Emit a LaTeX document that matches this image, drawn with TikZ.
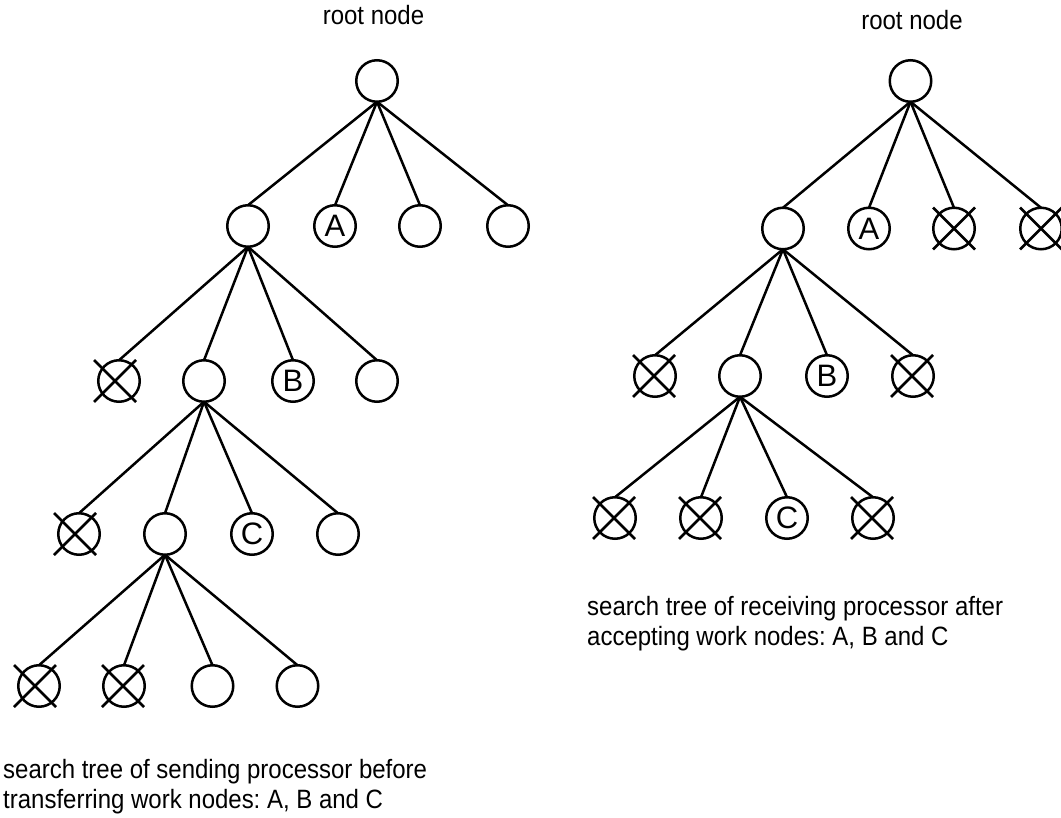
\documentclass[tikz,border=0pt]{standalone}
\usepackage{fontspec}
\setmainfont{Liberation Sans}
\newfontfamily\labelfont[FakeStretch=0.905]{Liberation Sans}
\frenchspacing
\begin{document}
\begin{tikzpicture}[x=1pt,y=-1pt,
  tn/.style={circle, draw, line width=2.5pt, minimum size=41.5pt, inner sep=0pt,
             outer sep=0pt, font=\fontsize{31}{31}\selectfont},
  ln/.style={line width=2.5pt},
  captxt/.style={font=\labelfont\fontsize{26.5}{30}\selectfont, align=left, inner sep=0pt}]
\useasboundingbox (0,0) rectangle (1061,818);

% cross drawn over a discarded node: #1 node name, #2 horizontal offset
\newcommand{\crossnode}[2]{%
  \draw[ln] ([shift={(#2-21pt,21pt)}]#1.center) -- ([shift={(#2+21pt,-21pt)}]#1.center)
            ([shift={(#2-21pt,-21pt)}]#1.center) -- ([shift={(#2+21pt,21pt)}]#1.center);}

% ---------- sending processor ----------
\node[captxt, anchor=base] (lroottxt) at (373.5,25) {root node};
\node[tn] (l0) at (377,81) {};
\node[tn] (l1a) at (248,226) {};
\node[tn] (l1b) at (335,226) {A};
\node[tn] (l1c) at (420,226) {};
\node[tn] (l1d) at (508,226) {};
\node[tn] (l2a) at (119,381) {};
\node[tn] (l2b) at (204,381) {};
\node[tn] (l2c) at (293,381) {B};
\node[tn] (l2d) at (377,381) {};
\node[tn] (l3a) at (79,534) {};
\node[tn] (l3b) at (165,534) {};
\node[tn] (l3c) at (252,534) {C};
\node[tn] (l3d) at (338,534) {};
\node[tn] (l4a) at (39,686) {};
\node[tn] (l4b) at (124,686) {};
\node[tn] (l4c) at (212.5,686) {};
\node[tn] (l4d) at (297.5,686) {};

\foreach \c in {l1a,l1b,l1c,l1d} \draw[ln] (l0.south) -- (\c.north);
\foreach \c in {l2a,l2b,l2c,l2d} \draw[ln] (l1a.south) -- (\c.north);
\foreach \c in {l3a,l3b,l3c,l3d} \draw[ln] (l2b.south) -- (\c.north);
\foreach \c in {l4a,l4b,l4c,l4d} \draw[ln] (l3b.south) -- (\c.north);

\crossnode{l2a}{-4pt}
\crossnode{l3a}{-4pt}
\crossnode{l4a}{-4pt}
\crossnode{l4b}{-1pt}

% the base anchor of a two-line node sits on its last line
\node[captxt, anchor=base west] (lcap) at (3,808)
  {search tree of sending processor before\\transferring work nodes: A, B and C};

% ---------- receiving processor ----------
\node[captxt, anchor=base] (rroottxt) at (912,30) {root node};
\node[tn] (r0) at (910.5,81) {};
\node[tn] (r1a) at (783,228.5) {};
\node[tn] (r1b) at (869,228.5) {A};
\node[tn] (r1c) at (954,228.5) {};
\node[tn] (r1d) at (1041,228.5) {};
\node[tn] (r2a) at (655,376) {};
\node[tn] (r2b) at (740,376) {};
\node[tn] (r2c) at (827,376) {B};
\node[tn] (r2d) at (913,376) {};
\node[tn] (r3a) at (615,518) {};
\node[tn] (r3b) at (701,518) {};
\node[tn] (r3c) at (787,518) {C};
\node[tn] (r3d) at (873,518) {};

\foreach \c in {r1a,r1b,r1c,r1d} \draw[ln] (r0.south) -- (\c.north);
\foreach \c in {r2a,r2b,r2c,r2d} \draw[ln] (r1a.south) -- (\c.north);
\foreach \c in {r3a,r3b,r3c,r3d} \draw[ln] (r2b.south) -- (\c.north);

\crossnode{r1c}{0pt}
\crossnode{r1d}{0pt}
\crossnode{r2a}{-1pt}
\crossnode{r2d}{-1pt}
\crossnode{r3a}{-1pt}
\crossnode{r3b}{-1pt}
\crossnode{r3d}{-1pt}

\node[captxt, anchor=base west] (rcap) at (587,645)
  {search tree of receiving processor after\\accepting work nodes: A, B and C};
\end{tikzpicture}
\end{document}
